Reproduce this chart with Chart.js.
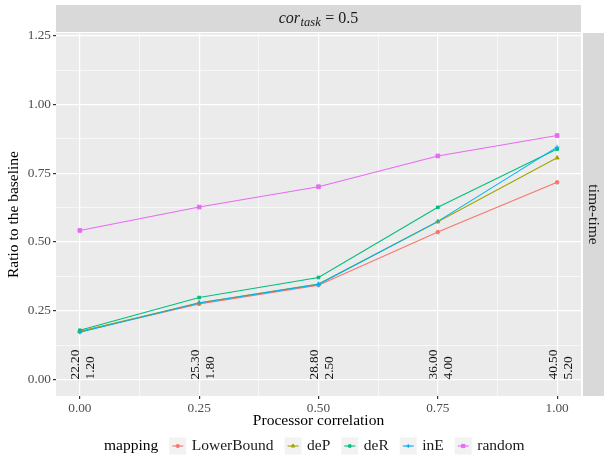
<!DOCTYPE html>
<html><head><meta charset="utf-8">
<script src="https://cdn.jsdelivr.net/npm/chart.js@4/dist/chart.umd.min.js"></script>
<style>html,body{margin:0;padding:0;background:#fff}#wrap{width:606px;height:460px}</style>
</head><body><div id="wrap"><canvas id="c" width="606" height="460"></canvas></div>
<script>
// ---- data ----
const correlations = [0, 0.25, 0.5, 0.75, 1.0];
const seriesNames = ['LowerBound', 'deP', 'deR', 'inE', 'random'];
const lowerBound = [0.175, 0.275, 0.343, 0.536, 0.717];
const deP        = [0.174, 0.279, 0.347, 0.574, 0.806];
const deR        = [0.179, 0.298, 0.371, 0.626, 0.838];
const inE        = [0.172, 0.278, 0.346, 0.575, 0.845];
const random     = [0.542, 0.627, 0.701, 0.813, 0.887];
const topLabels    = ['22.20', '25.30', '28.80', '36.00', '40.50'];
const bottomLabels = ['1.20', '1.80', '2.50', '4.00', '5.20'];
const yMajor = [0, 0.25, 0.5, 0.75, 1, 1.25];
const yMinor = [0.125, 0.375, 0.625, 0.875, 1.125];
const xMajor = [0, 0.25, 0.5, 0.75, 1];
const xMinor = [0.125, 0.375, 0.625, 0.875];
const facetTop = '= 0.5';
const facetRight = 'time-time';

// ---- styles ----
const seriesValues = [lowerBound, deP, deR, inE, random];
const colors = ['#F8766D', '#A3A500', '#00BF7D', '#00B0F6', '#E76BF3'];
const shapes = ['circle', 'triangle', 'rect', 'cross', 'rect'];
const radii = [1.8, 2.3, 1.9, 2.3, 2.6];
const FONT = "'Liberation Serif', serif";

const datasets = seriesNames.map((name, i) => ({
  label: name,
  data: correlations.map((x, j) => ({x: x, y: seriesValues[i][j]})),
  borderColor: colors[i],
  backgroundColor: colors[i],
  pointBackgroundColor: colors[i],
  pointBorderColor: colors[i],
  pointStyle: shapes[i],
  pointRadius: radii[i],
  pointBorderWidth: 1,
  borderWidth: 1.1,
  tension: 0,
  order: seriesNames.length - 1 - i
}));

const isIn = (arr, v) => arr.some(a => Math.abs(a - v) < 1e-9);

const panelPlugin = {
  id: 'panel',
  beforeDraw(chart) {
    const {ctx, chartArea: a} = chart;
    ctx.save();
    ctx.fillStyle = '#EBEBEB';
    ctx.fillRect(a.left, a.top, a.right - a.left, a.bottom - a.top);
    // strips
    ctx.fillStyle = '#D9D9D9';
    ctx.fillRect(a.left, 5, a.right - a.left, a.top - 6);
    ctx.fillRect(a.right + 2, a.top, 604 - a.right - 2, a.bottom - a.top);
    ctx.fillStyle = '#1A1A1A';
    ctx.textBaseline = 'alphabetic';
    // top strip text: cor_task = 0.5
    const f1 = 'italic 16px ' + FONT, f2 = 'italic 12.5px ' + FONT, f3 = '16px ' + FONT;
    ctx.font = f1; const w1 = ctx.measureText('cor').width;
    ctx.font = f2; const w2 = ctx.measureText('task').width + 1;
    ctx.font = f3; const w3 = ctx.measureText(' ' + facetTop).width;
    let x = (a.left + a.right) / 2 - (w1 + w2 + w3) / 2;
    const base = 23;
    ctx.textAlign = 'left';
    ctx.font = f1; ctx.fillText('cor', x, base); x += w1;
    ctx.font = f2; ctx.fillText('task', x + 0.5, base + 3); x += w2;
    ctx.font = f3; ctx.fillText(' ' + facetTop, x, base);
    // right strip
    ctx.translate((a.right + 2 + 604) / 2, (a.top + a.bottom) / 2);
    ctx.rotate(Math.PI / 2);
    ctx.textAlign = 'center';
    ctx.textBaseline = 'middle';
    ctx.font = '15.5px ' + FONT;
    ctx.fillText(facetRight, 0, 0);
    ctx.restore();
  },
  afterDatasetsDraw(chart) {
    const {ctx, scales} = chart;
    ctx.save();
    ctx.fillStyle = '#111';
    ctx.font = '13.3px ' + FONT;
    ctx.textAlign = 'left';
    ctx.textBaseline = 'middle';
    const y0 = scales.y.getPixelForValue(0);
    correlations.forEach((c, i) => {
      const px = scales.x.getPixelForValue(c);
      [[topLabels[i], -4], [bottomLabels[i], 11]].forEach(([t, off]) => {
        ctx.save();
        ctx.translate(px + off, y0);
        ctx.rotate(-Math.PI / 2);
        ctx.fillText(t, 0, 0);
        ctx.restore();
      });
    });
    ctx.restore();
  },
  afterDraw(chart) {
    const {ctx} = chart;
    ctx.save();
    const cy = 446;
    ctx.textBaseline = 'middle';
    ctx.textAlign = 'left';
    ctx.font = '15.5px ' + FONT;
    ctx.fillStyle = '#000';
    let x = 104;
    ctx.fillText('mapping', x, cy);
    x += ctx.measureText('mapping').width + 11;
    chart.data.datasets.forEach((ds, i) => {
      ctx.fillStyle = '#F2F2F2';
      ctx.fillRect(x, cy - 8.5, 17, 17);
      ctx.strokeStyle = ds.borderColor;
      ctx.lineWidth = 1.1;
      ctx.beginPath(); ctx.moveTo(x + 3, cy); ctx.lineTo(x + 14, cy); ctx.stroke();
      ctx.fillStyle = ds.pointBackgroundColor;
      ctx.strokeStyle = ds.pointBorderColor;
      ctx.lineWidth = 1;
      Chart.helpers.drawPoint(ctx, {pointStyle: ds.pointStyle, radius: ds.pointRadius * 0.9, borderWidth: 1, rotation: 0}, x + 8.5, cy);
      x += 17 + 5.5;
      ctx.fillStyle = '#1A1A1A';
      ctx.font = '15.5px ' + FONT;
      ctx.fillText(ds.label, x, cy);
      x += ctx.measureText(ds.label).width + 11;
    });
    ctx.restore();
  }
};

const gridColor = '#FFFFFF';
new Chart(document.getElementById('c'), {
  type: 'line',
  data: {datasets: datasets},
  plugins: [panelPlugin],
  options: {
    responsive: false,
    animation: false,
    devicePixelRatio: 1,
    layout: {padding: {left: 0, right: 25, top: 33, bottom: 30}},
    plugins: {legend: {display: false}, tooltip: {enabled: false}},
    scales: {
      x: {
        type: 'linear', min: -0.05, max: 1.05,
        afterBuildTicks: s => { s.ticks = [...xMajor, ...xMinor].sort((a, b) => a - b).map(v => ({value: v})); },
        afterFit: s => { s.height = 34; },
        border: {display: false},
        grid: {
          color: gridColor,
          lineWidth: c => isIn(xMajor, c.tick.value) ? 1.2 : 0.6,
          tickColor: c => isIn(xMajor, c.tick.value) ? '#333333' : 'rgba(0,0,0,0)',
          tickLength: 3, drawTicks: true
        },
        ticks: {
          autoSkip: false, maxRotation: 0, padding: 2,
          color: '#4D4D4D', font: {family: FONT, size: 13.3},
          callback: v => isIn(xMajor, v) ? v.toFixed(2) : ''
        },
        title: {display: true, text: 'Processor correlation', color: '#000', font: {family: FONT, size: 15.5}, padding: {top: 0, bottom: 0}}
      },
      y: {
        type: 'linear', min: -0.06, max: 1.26,
        afterBuildTicks: s => { s.ticks = [...yMajor, ...yMinor].sort((a, b) => a - b).map(v => ({value: v})); },
        afterFit: s => { s.width = 56; },
        border: {display: false},
        grid: {
          color: gridColor,
          lineWidth: c => isIn(yMajor, c.tick.value) ? 1.2 : 0.6,
          tickColor: c => isIn(yMajor, c.tick.value) ? '#333333' : 'rgba(0,0,0,0)',
          tickLength: 3, drawTicks: true
        },
        ticks: {
          autoSkip: false, padding: 2,
          color: '#4D4D4D', font: {family: FONT, size: 13.3},
          callback: v => isIn(yMajor, v) ? v.toFixed(2) : ''
        },
        title: {display: true, text: 'Ratio to the baseline', color: '#000', font: {family: FONT, size: 15.5}, padding: {top: 5, bottom: 0}}
      }
    }
  }
});
</script></body></html>
